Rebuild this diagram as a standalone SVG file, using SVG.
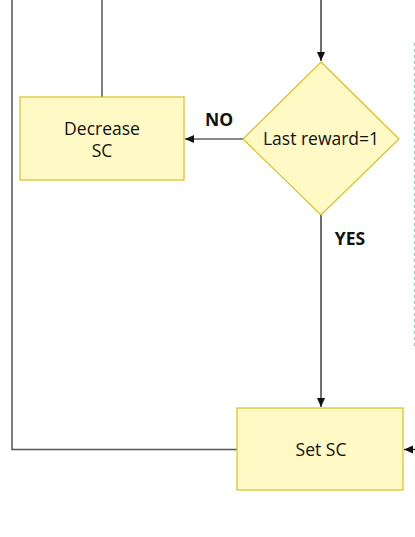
<svg xmlns="http://www.w3.org/2000/svg" width="415" height="537" viewBox="0 0 415 537">
<style>
.box{fill:#fff9c6;stroke:#d6c21f;stroke-width:1.2}
.t{font-family:"Open Sans","DejaVu Sans",sans-serif;font-size:17.5px;fill:#111;text-anchor:middle}
.b{font-family:"Open Sans","DejaVu Sans",sans-serif;font-size:17.5px;font-weight:bold;fill:#111;text-anchor:middle}
.g{fill:none;stroke:#555;stroke-width:1.5}
.k{fill:none;stroke:#111;stroke-width:1.2}
</style>
<defs>
<marker id="ah" markerWidth="10" markerHeight="10" refX="9" refY="5" orient="auto" markerUnits="userSpaceOnUse">
<path d="M0,1 L9,5 L0,9 Z" fill="#111"/>
</marker>
</defs>
<g id="connectors">
<polyline class="g" points="12,0 12,449.5 237,449.5"/>
<line class="g" x1="102" y1="0" x2="102" y2="97"/>
<line class="k" x1="321" y1="0" x2="321" y2="61" marker-end="url(#ah)"/>
<line class="k" x1="243" y1="139" x2="185" y2="139" marker-end="url(#ah)"/>
<line class="k" x1="321" y1="215" x2="321" y2="407" marker-end="url(#ah)"/>
<line class="k" x1="415" y1="449.5" x2="404" y2="449.5" marker-end="url(#ah)"/>
<line x1="414.5" y1="43" x2="414.5" y2="346" stroke="#8ccccc" stroke-width="1" stroke-dasharray="3,3"/>
<text class="b" x="219" y="126">NO</text>
<text class="b" x="350" y="245">YES</text>
</g>
<g id="decrease">
<rect class="box" x="20" y="97" width="164" height="83"/>
<text class="t" x="102" y="135">Decrease</text>
<text class="t" x="102" y="157">SC</text>
</g>
<g id="decision">
<polygon class="box" points="321,62 399,139 321,215 243,139"/>
<text class="t" x="321" y="145">Last reward=1</text>
</g>
<g id="setsc">
<rect class="box" x="237" y="408" width="166" height="82"/>
<text class="t" x="321" y="456">Set SC</text>
</g>
</svg>
